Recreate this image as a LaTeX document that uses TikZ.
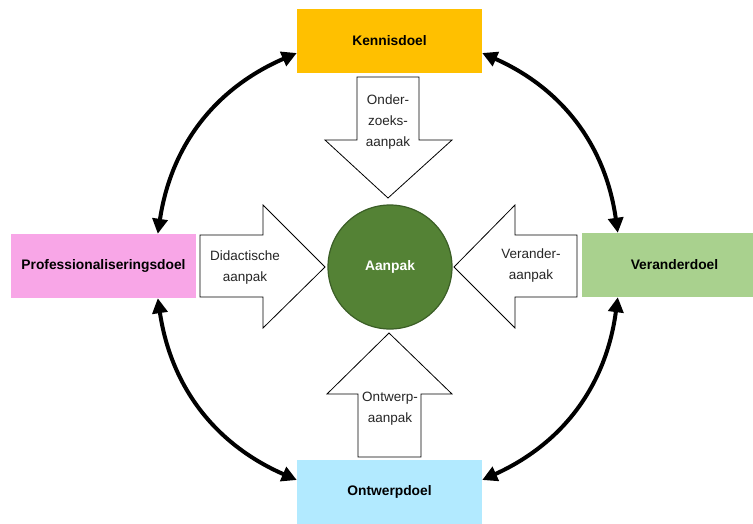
\documentclass[tikz,border=0pt]{standalone}
\usepackage{fontspec}
\setmainfont{Liberation Sans}
\usetikzlibrary{arrows.meta,calc}
\definecolor{kennisc}{HTML}{FFC000}
\definecolor{profc}{HTML}{F8A6E7}
\definecolor{verc}{HTML}{A9D18E}
\definecolor{ontwc}{HTML}{B2EAFF}
\definecolor{aanpakc}{HTML}{548235}
\definecolor{aanpakd}{HTML}{3B5E26}
\begin{document}
\begin{tikzpicture}[x=1pt,y=-1pt,
  goal/.style={minimum width=185pt,minimum height=64pt,inner sep=0pt,
    font=\fontsize{13.8}{16}\selectfont\bfseries},
  blk/.style={draw=black,fill=white,line width=0.8pt,line join=miter},
  lbl/.style={align=center,inner sep=0pt,font=\fontsize{13.5}{21}\selectfont,text=black!85},
  cyc/.style={line width=4pt,{Triangle[length=15pt,width=15pt]}-{Triangle[length=15pt,width=15pt]}}
]
\useasboundingbox (0,0) rectangle (753,523);
\begin{scope}
\clip (0,0) rectangle (753,523);
\node[goal,fill=kennisc] (kennis) at (389.5,41) {Kennisdoel};
\node[goal,fill=profc] (prof) at (103.5,266) {Professionaliseringsdoel};
\node[goal,fill=verc] (ver) at (674.5,265) {Veranderdoel};
\node[goal,fill=ontwc] (ontw) at (389.5,492) {Ontwerpdoel};
\end{scope}

% block arrows
\draw[blk] (357,77)--(419,77)--(419,140)--(452,140)--(388,198)--(325,140)--(357,140)--cycle;
\draw[blk] (200,235)--(263,235)--(263,205)--(325,267)--(263,328)--(263,297)--(200,297)--cycle;
\draw[blk] (577,235)--(515,235)--(515,205)--(454,267)--(515,328)--(515,297)--(577,297)--cycle;
\draw[blk] (358,457)--(421,457)--(421,394)--(452,394)--(389,333)--(327,394)--(358,394)--cycle;

\node[lbl] (londer) at (388,122) {Onder-\\zoeks-\\aanpak};
\node[lbl] (ldid) at (245,268) {Didactische\\aanpak};
\node[lbl] (lver) at (531,266) {Verander-\\aanpak};
\node[lbl] (lontw) at (390,409) {Ontwerp-\\aanpak};

\node[circle,minimum size=124pt,inner sep=0pt,fill=aanpakc,draw=aanpakd,line width=1.2pt,
  text=white,font=\fontsize{13.8}{16}\selectfont\bfseries] (aanpak) at (390,267) {Aanpak};

% cycle arrows
\coordinate (k1) at ($(kennis.west)+(0,12)$);
\coordinate (k2) at ($(kennis.east)+(0,12)$);
\coordinate (p1) at ($(prof.north west)+(147,0)$);
\coordinate (p2) at ($(prof.south west)+(147,0)$);
\coordinate (v1) at ($(ver.north west)+(36,0)$);
\coordinate (v2) at ($(ver.south west)+(36,0)$);
\coordinate (o1) at ($(ontw.west)+(0,-12)$);
\coordinate (o2) at ($(ontw.east)+(0,-12)$);
\draw[cyc] (k1) to[bend right=29] (p1);
\draw[cyc] (k2) to[bend left=29] (v1);
\draw[cyc] (p2) to[bend right=29] (o1);
\draw[cyc] (v2) to[bend left=29] (o2);
\end{tikzpicture}
\end{document}
